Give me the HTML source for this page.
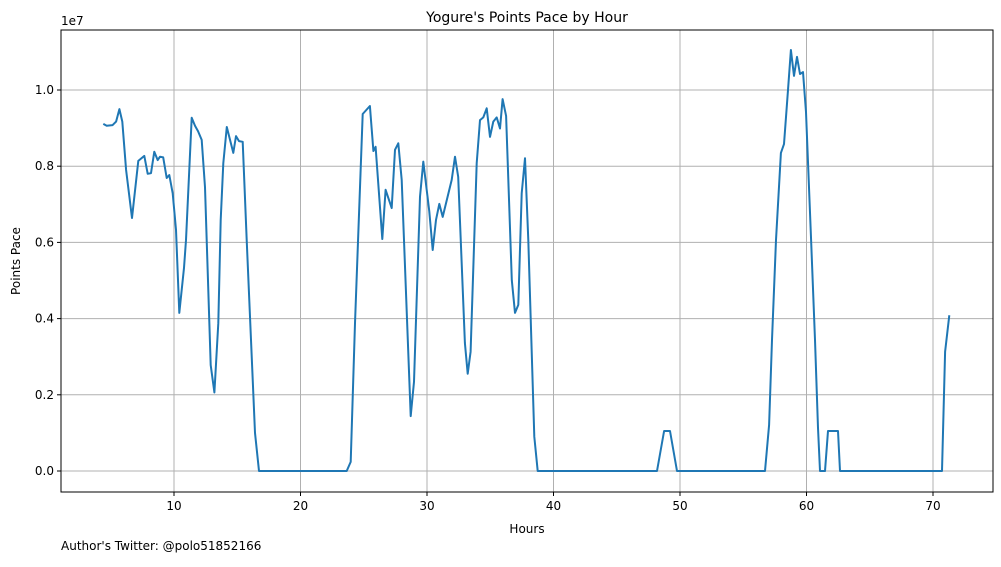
<!DOCTYPE html>
<html><head><meta charset="utf-8"><style>
body{margin:0;background:#fff;width:1001px;height:562px;overflow:hidden;font-family:"Liberation Sans","DejaVu Sans",sans-serif}
svg text{font-family:"DejaVu Sans","Liberation Sans",sans-serif}
</style></head><body>
<svg id="chart" width="1001" height="562">
<text x="527" y="22" text-anchor="middle" font-size="14">Yogure's Points Pace by Hour</text>
<g id="grid"></g>
<g id="ticks"></g>
<path id="line" fill="none" stroke="#1f77b4" stroke-width="2" stroke-linejoin="round"/>
<rect x="61" y="30" width="932" height="462" fill="none" stroke="#000" stroke-width="1"/>
<text x="61" y="25" font-size="12">1e7</text>
<text x="527" y="533" text-anchor="middle" font-size="12">Hours</text>
<text transform="translate(20,261) rotate(-90)" text-anchor="middle" font-size="12">Points Pace</text>
<text x="61" y="550" font-size="12">Author's Twitter: @polo51852166</text>
</svg>
<script>
const hours=[4.41,4.68,5.15,5.42,5.68,5.91,6.21,6.68,7.18,7.65,7.92,8.18,8.44,8.71,8.89,9.15,9.42,9.63,9.90,10.16,10.42,10.79,10.95,11.40,11.66,11.90,12.19,12.45,12.90,13.19,13.50,13.69,13.90,14.17,14.69,14.90,15.14,15.43,15.75,16.09,16.40,16.72,23.65,23.97,24.31,24.92,25.49,25.76,25.94,26.47,26.73,27.21,27.47,27.73,28.00,28.71,28.97,29.45,29.71,30.18,30.45,30.71,30.97,31.24,31.95,32.21,32.47,33.00,33.22,33.45,33.93,34.19,34.45,34.72,34.98,35.24,35.51,35.77,35.98,36.25,36.70,36.96,37.22,37.49,37.75,38.01,38.48,38.75,48.18,48.74,49.21,49.76,56.72,57.04,57.27,57.59,57.98,58.22,58.54,58.77,59.01,59.25,59.49,59.72,59.96,60.36,60.67,60.91,61.07,61.46,61.70,62.49,62.65,70.71,70.96,71.29];
const paceMillions=[9.11,9.06,9.08,9.17,9.50,9.17,7.90,6.64,8.14,8.27,7.80,7.82,8.38,8.16,8.25,8.23,7.69,7.77,7.29,6.33,4.15,5.33,6.06,9.27,9.06,8.92,8.69,7.45,2.78,2.06,3.88,6.59,8.08,9.03,8.35,8.79,8.66,8.64,6.06,3.44,1.00,0,0,0.24,3.88,9.37,9.58,8.40,8.51,6.09,7.38,6.90,8.43,8.60,7.64,1.44,2.34,7.20,8.12,6.81,5.80,6.59,7.01,6.67,7.64,8.25,7.72,3.36,2.55,3.13,8.08,9.21,9.28,9.52,8.77,9.17,9.28,8.99,9.76,9.32,5.01,4.15,4.36,7.29,8.21,6.06,0.90,0,0,1.05,1.05,0,0,1.21,3.44,6.06,8.35,8.58,10.0,11.05,10.37,10.87,10.42,10.47,9.42,6.06,3.44,1.13,0,0,1.05,1.05,0,0,3.13,4.09];
const xTicks=[10,20,30,40,50,60,70];
const yTicks=[0,2,4,6,8,10];
const yTickLabels=["0.0","0.2","0.4","0.6","0.8","1.0"];
const xScale=h=>47.5+12.65*h;
const yScale=m=>471-38.1*m;
const NS="http://www.w3.org/2000/svg";
const grid=document.getElementById('grid'),ticks=document.getElementById('ticks');
function mk(tag,attrs,parent){const e=document.createElementNS(NS,tag);for(const k in attrs)e.setAttribute(k,attrs[k]);parent.appendChild(e);return e;}
xTicks.forEach(t=>{const x=xScale(t);
 const g=mk('line',{x1:x,x2:x,y1:30,y2:492,stroke:'#b0b0b0','stroke-width':1},grid);
 
 
 mk('line',{x1:x,x2:x,y1:492,y2:496,stroke:'#000'},ticks);
 const l=mk('text',{x:x,y:510,'text-anchor':'middle','font-size':12},ticks);l.textContent=t;
 
 });
yTicks.forEach((t,i)=>{const y=yScale(t);
 const g=mk('line',{x1:61,x2:993,y1:y,y2:y,stroke:'#b0b0b0','stroke-width':1},grid);
 
 
 mk('line',{x1:57,x2:61,y1:y,y2:y,stroke:'#000'},ticks);
 const l=mk('text',{x:54,y:y+4,'text-anchor':'end','font-size':12},ticks);l.textContent=yTickLabels[i];
 
 });
document.getElementById('line').setAttribute('d',hours.map((h,i)=>(i?'L':'M')+xScale(h).toFixed(1)+','+yScale(paceMillions[i]).toFixed(1)).join(''));
</script>
</body></html>
